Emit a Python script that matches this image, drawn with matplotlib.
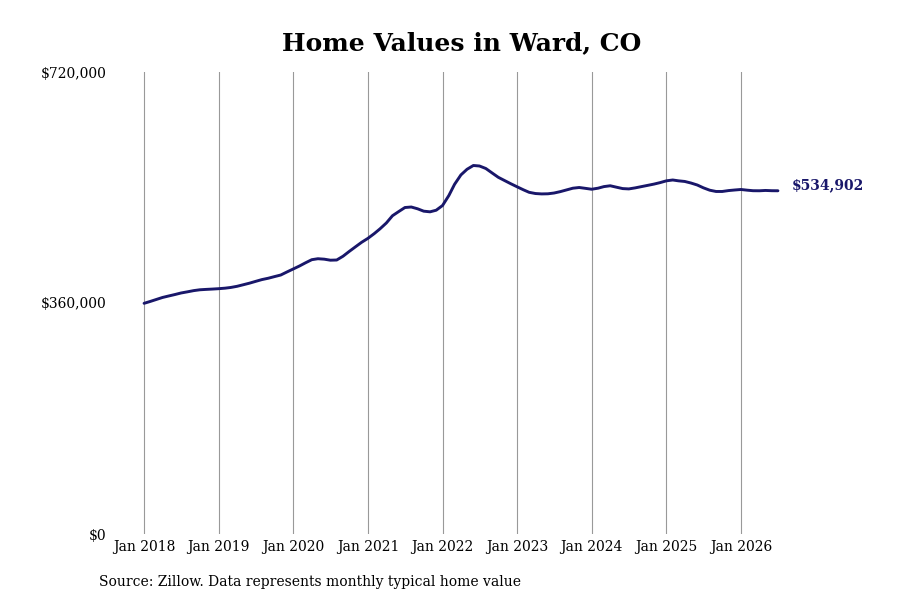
import matplotlib
matplotlib.use("Agg")
import matplotlib.pyplot as plt
import pandas as pd

plt.rcParams['font.family'] = ['DejaVu Serif']

values = [
    359500, 362500, 365400, 368600, 370900, 373200, 375600, 377400, 379300, 380600, 381200, 381700,
    382300, 383100, 384200, 386000, 388400, 390900, 393700, 396500, 398600, 401100, 403600, 408300,
    413000, 417700, 422600, 427500, 429000, 428300, 426700, 427000, 432900, 440300, 447600, 454600,
    460800, 468200, 475600, 484700, 496000, 502600, 508800, 509600, 506800, 503100, 502100, 504600,
    511900, 527500, 545000, 559600, 568400, 574300, 573500, 569600, 562600, 555900, 550800, 545900,
    541100, 536400, 532500, 530600, 530000, 530200, 531400, 533600, 536300, 538900, 540000, 538700,
    537300, 538900, 541400, 542700, 540500, 538300, 537800, 539400, 541400, 543300, 545300, 547600,
    550400, 551700, 550400, 549400, 547000, 543900, 539500, 535800, 533800, 533800, 535200, 536100,
    536900, 535800, 535000, 534900, 535400, 535000, 534902,
]
dates = pd.date_range("2018-01-01", periods=len(values), freq="MS")
tick_years = list(range(2018, 2027))
y_ticks = [0, 360000, 720000]
y_tick_labels = ["$0", "$360,000", "$720,000"]
title = "Home Values in Ward, CO"
source = "Source: Zillow. Data represents monthly typical home value"
end_label = "$534,902"
line_color = "#19176a"

fig = plt.figure(figsize=(9, 6), dpi=100)
ax = fig.add_axes([112/900, 1-534/600, (790-112)/900, (534-72)/600])

ax.plot(dates, values, color=line_color, linewidth=2.1, solid_capstyle='round')

ticks = [pd.Timestamp(f"{y}-01-01") for y in tick_years]
ax.set_xticks(ticks)
ax.set_xticklabels([f"Jan {y}" for y in tick_years], fontsize=10)
x0 = pd.Timestamp("2018-01-01") - pd.Timedelta(days=157)
x1 = pd.Timestamp("2018-01-01") + pd.Timedelta(days=3162)
ax.set_xlim(x0, x1)
ax.set_ylim(0, 720000)
ax.set_yticks(y_ticks)
ax.set_yticklabels(y_tick_labels, fontsize=10)
ax.tick_params(axis='both', length=0, pad=4)
ax.grid(axis='x', color='#999999', linewidth=0.8)
ax.set_axisbelow(True)
for s in ax.spines.values():
    s.set_visible(False)

ax.annotate(end_label, xy=(dates[-1], values[-1]), xytext=(10, 4), textcoords='offset points',
            fontsize=10, fontweight='bold', color=line_color, va='center', ha='left')

fig.text(462/900, 1-43/600, title, fontsize=18, fontweight='bold', ha='center', va='center')
fig.text(99/900, 1-582/600, source, fontsize=10, ha='left', va='center')

fig.savefig("out.png", dpi=100)
